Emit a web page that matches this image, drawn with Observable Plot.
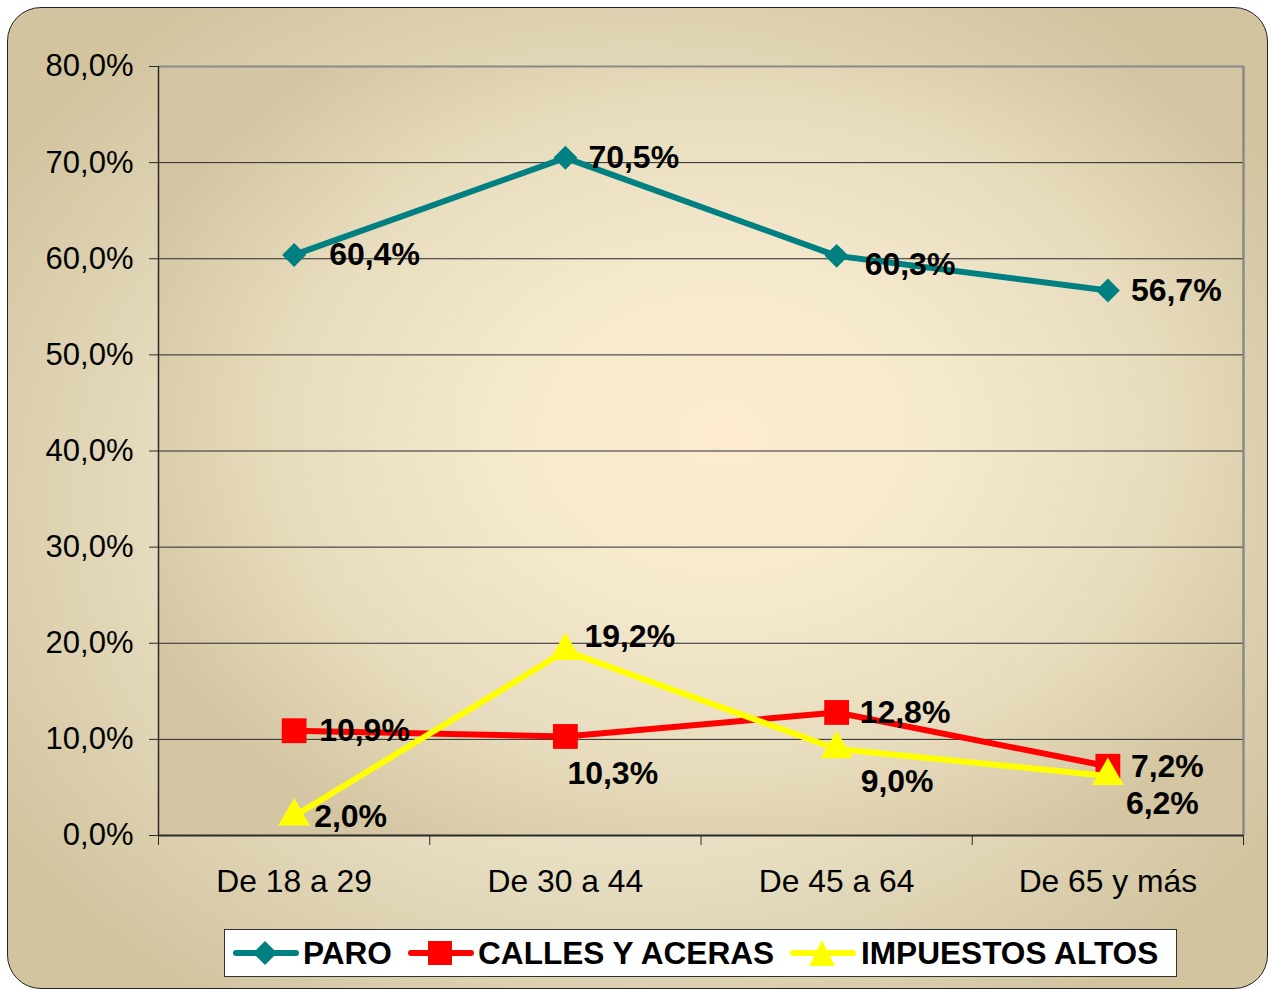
<!DOCTYPE html>
<html>
<head>
<meta charset="utf-8">
<script src="https://cdn.jsdelivr.net/npm/d3@7"></script>
<script src="https://cdn.jsdelivr.net/npm/@observablehq/plot@0.6"></script>
<style>
  html, body { margin: 0; padding: 0; background: #ffffff; }
  #page { position: relative; width: 1273px; height: 992px; overflow: hidden; font-family: "Liberation Sans", Arial, sans-serif; }
  #outer { position: absolute; left: 7px; top: 7px; width: 1261px; height: 982px; box-sizing: border-box;
    border: 1.5px solid #222; border-radius: 34px;
    background: radial-gradient(ellipse 60% 62% at 50% 50%, #F4EDDA 0%, #EAE1C6 55%, #D2C49F 100%); }
  #plotbg { position: absolute; left: 158px; top: 66px; width: 1085px; height: 769px;
    background: radial-gradient(ellipse 58% 62% at 52% 48%, #FCEBD0 0%, #F5E9CE 35%, #E7DCBD 70%, #D4C6A2 100%); }
  #chart { position: absolute; left: 0; top: 0; }
  #legend { position: absolute; left: 224px; top: 929px; width: 953px; height: 48px; box-sizing: border-box;
    background: #ffffff; border: 1.5px solid #333; }
  .lg-sw { position: absolute; top: 8px; }
  .lg-tx { position: absolute; top: 0; line-height: 46px; font-weight: bold; font-size: 31.6px; color: #000; white-space: nowrap; }
</style>
</head>
<body>
<div id="page">
  <div id="outer"></div>
  <div id="plotbg"></div>
  <div id="chart"></div>
  <div id="legend"></div>
</div>
<script>
// ---- data ----
const categories = ["De 18 a 29", "De 30 a 44", "De 45 a 64", "De 65 y más"];
const seriesNames = ["PARO", "CALLES Y ACERAS", "IMPUESTOS ALTOS"];
const paro = [60.4, 70.5, 60.3, 56.7];
const calles = [10.9, 10.3, 12.8, 7.2];
const impuestos = [2.0, 19.2, 9.0, 6.2];
const yTicks = [0, 10, 20, 30, 40, 50, 60, 70, 80];

// ---- styling ----
const seriesValues = [paro, calles, impuestos];
const colors = ["#008080", "#FF0000", "#FFFF00"];
const symbols = ["diamond2", "square", "triangle"];
const radii = [10.8, 14, 11.8];
const labelDx = [[35, 23, 28, 23], [25, 2, 23, 23], [20, 19, 24, 18]];
const labelDy = [[0, 0, 9, 0], [0, 37, 0, 0], [0, -14, 33, 28]];

const fmt = v => v.toFixed(1).replace(".", ",") + "%";

const rows = seriesNames.flatMap((s, k) =>
  seriesValues[k].map((v, i) => ({ s, k, i, v, cat: categories[i] })));

const marks = [
  Plot.ruleY(yTicks.filter(t => t > 0 && t < 80), { stroke: "#2a2a2a", strokeWidth: 1 }),
  Plot.ruleY([80], { stroke: "#8a8a8a", strokeWidth: 2 }),
  Plot.ruleX([4], { stroke: "#8a8a8a", strokeWidth: 2.5 }),
  Plot.ruleX([0], { stroke: "#2a2a2a", strokeWidth: 1.5 }),
  Plot.ruleY([0], { stroke: "#2a2a2a", strokeWidth: 2 }),
  Plot.axisY({ ticks: yTicks, tickFormat: fmt, tickSize: 9, tickPadding: 16, stroke: "#2a2a2a",
    fontSize: 31, fill: "#000", label: null }),
  Plot.axisX({ ticks: [0, 1, 2, 3, 4], tickFormat: () => "", tickSize: 10, stroke: "#2a2a2a", label: null }),
  Plot.text(categories, { x: (d, i) => i + 0.5, y: () => 0, dy: 46, text: d => d,
    fontSize: 31.8, fill: "#000" })
];

seriesNames.forEach((s, k) => {
  const data = rows.filter(r => r.k === k);
  marks.push(Plot.line(data, { x: d => d.i + 0.5, y: "v", stroke: colors[k], strokeWidth: 6, strokeLinejoin: "round" }));
  marks.push(Plot.dot(data, { x: d => d.i + 0.5, y: "v", symbol: () => symbols[k], fill: colors[k], r: radii[k], stroke: "none" }));
});

rows.forEach(r => {
  marks.push(Plot.text([r], { x: d => d.i + 0.5, y: "v", text: d => fmt(d.v),
    dx: labelDx[r.k][r.i], dy: labelDy[r.k][r.i], textAnchor: "start",
    fontSize: 32, fontWeight: "bold", fill: "#000" }));
});

const chart = Plot.plot({
  width: 1273,
  height: 900,
  marginLeft: 158,
  marginRight: 30,
  marginTop: 66,
  marginBottom: 65,
  x: { type: "linear", domain: [0, 4] },
  y: { domain: [0, 80] },
  symbol: { type: "identity" },
  style: { background: "transparent", fontFamily: "'Liberation Sans', Arial, sans-serif", fontSize: "31px", color: "#000", overflow: "visible" },
  marks
});
document.getElementById("chart").appendChild(chart);

// ---- legend ----
const legend = document.getElementById("legend");
const swX = [8, 183, 565];
const txX = [78, 253, 636];
const shapes = [
  c => `<polygon points="32,3 44,15 32,27 20,15" fill="${c}"/>`,
  c => `<rect x="20" y="3" width="24" height="24" fill="${c}"/>`,
  c => `<polygon points="32,2 45,28 19,28" fill="${c}"/>`
];
seriesNames.forEach((s, k) => {
  const sw = document.createElement("div");
  sw.className = "lg-sw";
  sw.style.left = swX[k] + "px";
  sw.innerHTML = `<svg width="66" height="30"><line x1="3" y1="15" x2="63" y2="15" stroke="${colors[k]}" stroke-width="6" stroke-linecap="round"/>${shapes[k](colors[k])}</svg>`;
  legend.appendChild(sw);
  const tx = document.createElement("div");
  tx.className = "lg-tx";
  tx.style.left = txX[k] + "px";
  tx.textContent = s;
  legend.appendChild(tx);
});
</script>
</body>
</html>
